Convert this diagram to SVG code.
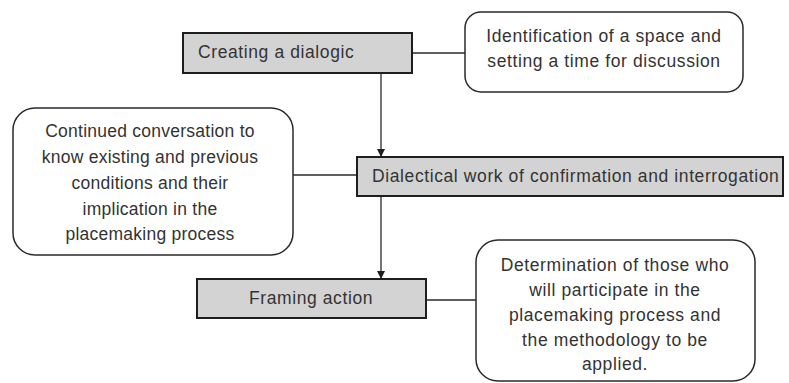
<svg xmlns="http://www.w3.org/2000/svg" width="789" height="383" viewBox="0 0 789 383">
<style>
.bg{fill:#ffffff}
.step rect{fill:#d3d3d3;stroke:#1e1e1e;stroke-width:2}
.note rect{fill:#ffffff;stroke:#2a2a2a;stroke-width:1.5}
text{font-family:"Liberation Sans",Arial,sans-serif;font-size:17.5px;letter-spacing:0.6px;fill:#333333}
#n4 text{letter-spacing:0.25px}
.c{text-anchor:middle}
.conn line{stroke:#2a2a2a;stroke-width:1.3}
</style>
<defs>
<marker id="arr" viewBox="0 0 10 10" refX="10" refY="5" markerWidth="8" markerHeight="8" markerUnits="userSpaceOnUse" orient="auto">
<path d="M0,0 L10,5 L0,10 z" fill="#1e1e1e"/>
</marker>
</defs>
<rect class="bg" x="0" y="0" width="789" height="383"/>
<g id="connectors" class="conn">
<line x1="412" y1="53" x2="465" y2="53"/>
<line x1="381" y1="73" x2="381" y2="157" marker-end="url(#arr)"/>
<line x1="293" y1="175" x2="357" y2="175"/>
<line x1="381" y1="196" x2="381" y2="279" marker-end="url(#arr)"/>
<line x1="426" y1="300" x2="476" y2="300"/>
</g>
<g id="n1" class="step">
<rect x="183" y="33" width="229" height="40"/>
<text x="198" y="58">Creating a dialogic</text>
</g>
<g id="n2" class="note">
<rect x="465" y="12" width="278" height="80" rx="16"/>
<text class="c" x="604" y="42">Identification of a space and</text>
<text class="c" x="604" y="67">setting a time for discussion</text>
</g>
<g id="n3" class="step">
<rect x="357" y="157" width="426" height="39"/>
<text x="372" y="182">Dialectical work of confirmation and interrogation</text>
</g>
<g id="n4" class="note">
<rect x="13" y="108" width="280" height="147" rx="22"/>
<text class="c" x="150" y="137">Continued conversation to</text>
<text class="c" x="150" y="163">know existing and previous</text>
<text class="c" x="150" y="189">conditions and their</text>
<text class="c" x="150" y="215">implication in the</text>
<text class="c" x="150" y="240">placemaking process</text>
</g>
<g id="n5" class="step">
<rect x="197" y="279" width="229" height="39"/>
<text class="c" x="311" y="304">Framing action</text>
</g>
<g id="n6" class="note">
<rect x="476" y="240" width="279" height="141" rx="22"/>
<text class="c" x="615" y="271">Determination of those who</text>
<text class="c" x="615" y="296">will participate in the</text>
<text class="c" x="615" y="321">placemaking process and</text>
<text class="c" x="615" y="346">the methodology to be</text>
<text class="c" x="615" y="370">applied.</text>
</g>
</svg>
